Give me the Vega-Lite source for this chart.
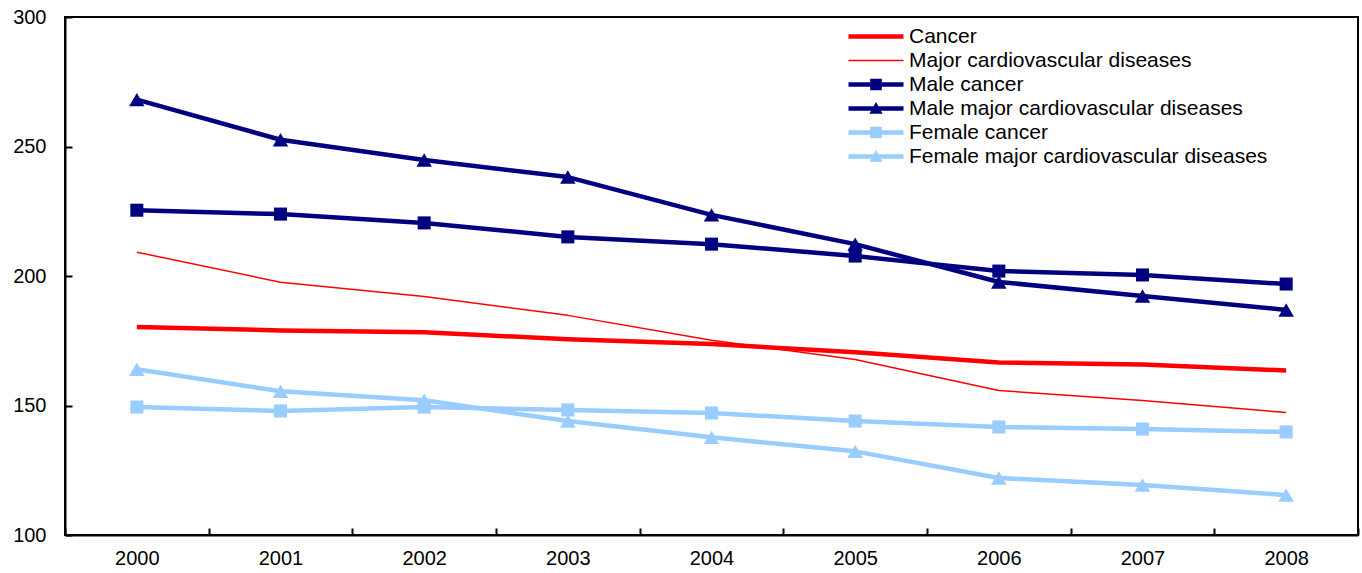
{
  "$schema": "https://vega.github.io/schema/vega-lite/v6.json",
  "width": 1293,
  "height": 518,
  "autosize": {"type": "none"},
  "padding": {"left": 65, "top": 17, "right": 4, "bottom": 38},
  "background": "white",
  "config": {
    "font": "Liberation Sans",
    "view": {"stroke": "black", "strokeWidth": 2},
    "axis": {"labelFont": "Liberation Sans", "labelFontSize": 20, "labelColor": "black", "domainColor": "black", "domainWidth": 2, "tickColor": "black", "tickWidth": 2, "grid": false, "title": null},
    "legend": {"title": null, "orient": "none", "legendX": 800.5, "legendY": 9, "symbolSize": 400, "symbolStrokeWidth": 0, "symbolOpacity": 1, "labelFont": "Liberation Sans", "labelFontSize": 21, "labelColor": "black", "labelOffset": 22.5, "rowPadding": 2, "labelLimit": 600, "padding": 0}
  },
  "data": {"values": [
    {"year": "2000", "series": "Cancer", "value": 180.3},
    {"year": "2001", "series": "Cancer", "value": 179.0},
    {"year": "2002", "series": "Cancer", "value": 178.3},
    {"year": "2003", "series": "Cancer", "value": 175.6},
    {"year": "2004", "series": "Cancer", "value": 173.7},
    {"year": "2005", "series": "Cancer", "value": 170.6},
    {"year": "2006", "series": "Cancer", "value": 166.6},
    {"year": "2007", "series": "Cancer", "value": 165.8},
    {"year": "2008", "series": "Cancer", "value": 163.5},
    {"year": "2000", "series": "Major cardiovascular diseases", "value": 209.2},
    {"year": "2001", "series": "Major cardiovascular diseases", "value": 197.6},
    {"year": "2002", "series": "Major cardiovascular diseases", "value": 192.1},
    {"year": "2003", "series": "Major cardiovascular diseases", "value": 184.8},
    {"year": "2004", "series": "Major cardiovascular diseases", "value": 175.2},
    {"year": "2005", "series": "Major cardiovascular diseases", "value": 167.8},
    {"year": "2006", "series": "Major cardiovascular diseases", "value": 155.8},
    {"year": "2007", "series": "Major cardiovascular diseases", "value": 151.9},
    {"year": "2008", "series": "Major cardiovascular diseases", "value": 147.3},
    {"year": "2000", "series": "Male cancer", "value": 225.4},
    {"year": "2001", "series": "Male cancer", "value": 223.9},
    {"year": "2002", "series": "Male cancer", "value": 220.5},
    {"year": "2003", "series": "Male cancer", "value": 215.1},
    {"year": "2004", "series": "Male cancer", "value": 212.3},
    {"year": "2005", "series": "Male cancer", "value": 207.7},
    {"year": "2006", "series": "Male cancer", "value": 201.9},
    {"year": "2007", "series": "Male cancer", "value": 200.4},
    {"year": "2008", "series": "Male cancer", "value": 196.9},
    {"year": "2000", "series": "Male major cardiovascular diseases", "value": 268.1},
    {"year": "2001", "series": "Male major cardiovascular diseases", "value": 252.6},
    {"year": "2002", "series": "Male major cardiovascular diseases", "value": 244.8},
    {"year": "2003", "series": "Male major cardiovascular diseases", "value": 238.2},
    {"year": "2004", "series": "Male major cardiovascular diseases", "value": 223.6},
    {"year": "2005", "series": "Male major cardiovascular diseases", "value": 212.3},
    {"year": "2006", "series": "Male major cardiovascular diseases", "value": 197.7},
    {"year": "2007", "series": "Male major cardiovascular diseases", "value": 192.3},
    {"year": "2008", "series": "Male major cardiovascular diseases", "value": 186.9},
    {"year": "2000", "series": "Female cancer", "value": 149.4},
    {"year": "2001", "series": "Female cancer", "value": 147.9},
    {"year": "2002", "series": "Female cancer", "value": 149.4},
    {"year": "2003", "series": "Female cancer", "value": 148.3},
    {"year": "2004", "series": "Female cancer", "value": 147.1},
    {"year": "2005", "series": "Female cancer", "value": 144.0},
    {"year": "2006", "series": "Female cancer", "value": 141.7},
    {"year": "2007", "series": "Female cancer", "value": 140.9},
    {"year": "2008", "series": "Female cancer", "value": 139.8},
    {"year": "2000", "series": "Female major cardiovascular diseases", "value": 164.0},
    {"year": "2001", "series": "Female major cardiovascular diseases", "value": 155.5},
    {"year": "2002", "series": "Female major cardiovascular diseases", "value": 152.0},
    {"year": "2003", "series": "Female major cardiovascular diseases", "value": 144.0},
    {"year": "2004", "series": "Female major cardiovascular diseases", "value": 137.7},
    {"year": "2005", "series": "Female major cardiovascular diseases", "value": 132.3},
    {"year": "2006", "series": "Female major cardiovascular diseases", "value": 122.0},
    {"year": "2007", "series": "Female major cardiovascular diseases", "value": 119.3},
    {"year": "2008", "series": "Female major cardiovascular diseases", "value": 115.4}
  ]},
  "encoding": {
    "x": {"field": "year", "type": "ordinal", "scale": {"type": "band", "paddingInner": 0, "paddingOuter": 0},
      "axis": {"labelAngle": 0, "tickBand": "extent", "tickSize": -7, "labelPadding": 20, "domain": true}},
    "y": {"field": "value", "type": "quantitative", "scale": {"domain": [100, 300], "nice": false, "zero": false},
      "axis": {"values": [100, 150, 200, 250, 300], "tickSize": -7, "labelPadding": 26}}
  },
  "layer": [
    {
      "transform": [{"filter": "datum.series != 'Major cardiovascular diseases'"}],
      "mark": {"type": "line", "strokeJoin": "round", "strokeWidth": 4.5},
      "encoding": {
        "stroke": {"field": "series", "type": "nominal",
          "scale": {"domain": ["Cancer", "Major cardiovascular diseases", "Male cancer", "Male major cardiovascular diseases", "Female cancer", "Female major cardiovascular diseases"],
            "range": ["#FF0000", "#FF0000", "#000080", "#000080", "#99CCFF", "#99CCFF"]}}
      }
    },
    {
      "transform": [{"filter": "datum.series == 'Major cardiovascular diseases'"}],
      "mark": {"type": "line", "strokeJoin": "round", "strokeWidth": 1.5},
      "encoding": {
        "stroke": {"field": "series", "type": "nominal"}
      }
    },
    {
      "transform": [{"filter": "datum.series == 'Male cancer' || datum.series == 'Female cancer'"}],
      "mark": {"type": "point", "filled": true, "opacity": 1, "size": 170, "shape": "square", "strokeWidth": 0},
      "encoding": {"fill": {"field": "series", "type": "nominal",
          "scale": {"domain": ["Cancer", "Major cardiovascular diseases", "Male cancer", "Male major cardiovascular diseases", "Female cancer", "Female major cardiovascular diseases"],
            "range": ["#FF0000", "#FF0000", "#000080", "#000080", "#99CCFF", "#99CCFF"]}}}
    },
    {
      "transform": [{"filter": "datum.series == 'Male major cardiovascular diseases' || datum.series == 'Female major cardiovascular diseases'"}],
      "mark": {"type": "point", "filled": true, "opacity": 1, "size": 240, "shape": "triangle-up", "strokeWidth": 0},
      "encoding": {"fill": {"field": "series", "type": "nominal"}}
    },
    {
      "transform": [{"filter": "datum.year == '2000'"}],
      "mark": {"type": "point", "filled": true, "opacity": 1, "size": 0.01, "strokeWidth": 0},
      "encoding": {
        "fill": {"field": "series", "type": "nominal"},
        "shape": {"field": "series", "type": "nominal",
          "scale": {"domain": ["Cancer", "Major cardiovascular diseases", "Male cancer", "Male major cardiovascular diseases", "Female cancer", "Female major cardiovascular diseases"],
            "range": [
              "M-2.75,-0.234H2.75V0.234H-2.75Z",
              "M-2.75,-0.0825H2.75V0.0825H-2.75Z",
              "M-2.75,-0.234H2.75V0.234H-2.75ZM-0.58,-0.58H0.58V0.58H-0.58Z",
              "M-2.75,-0.234H2.75V0.234H-2.75ZM-0.66,0.52L0,-0.66L0.66,0.52Z",
              "M-2.75,-0.234H2.75V0.234H-2.75ZM-0.58,-0.58H0.58V0.58H-0.58Z",
              "M-2.75,-0.234H2.75V0.234H-2.75ZM-0.66,0.52L0,-0.66L0.66,0.52Z"
            ]}}
      }
    }
  ]
}
